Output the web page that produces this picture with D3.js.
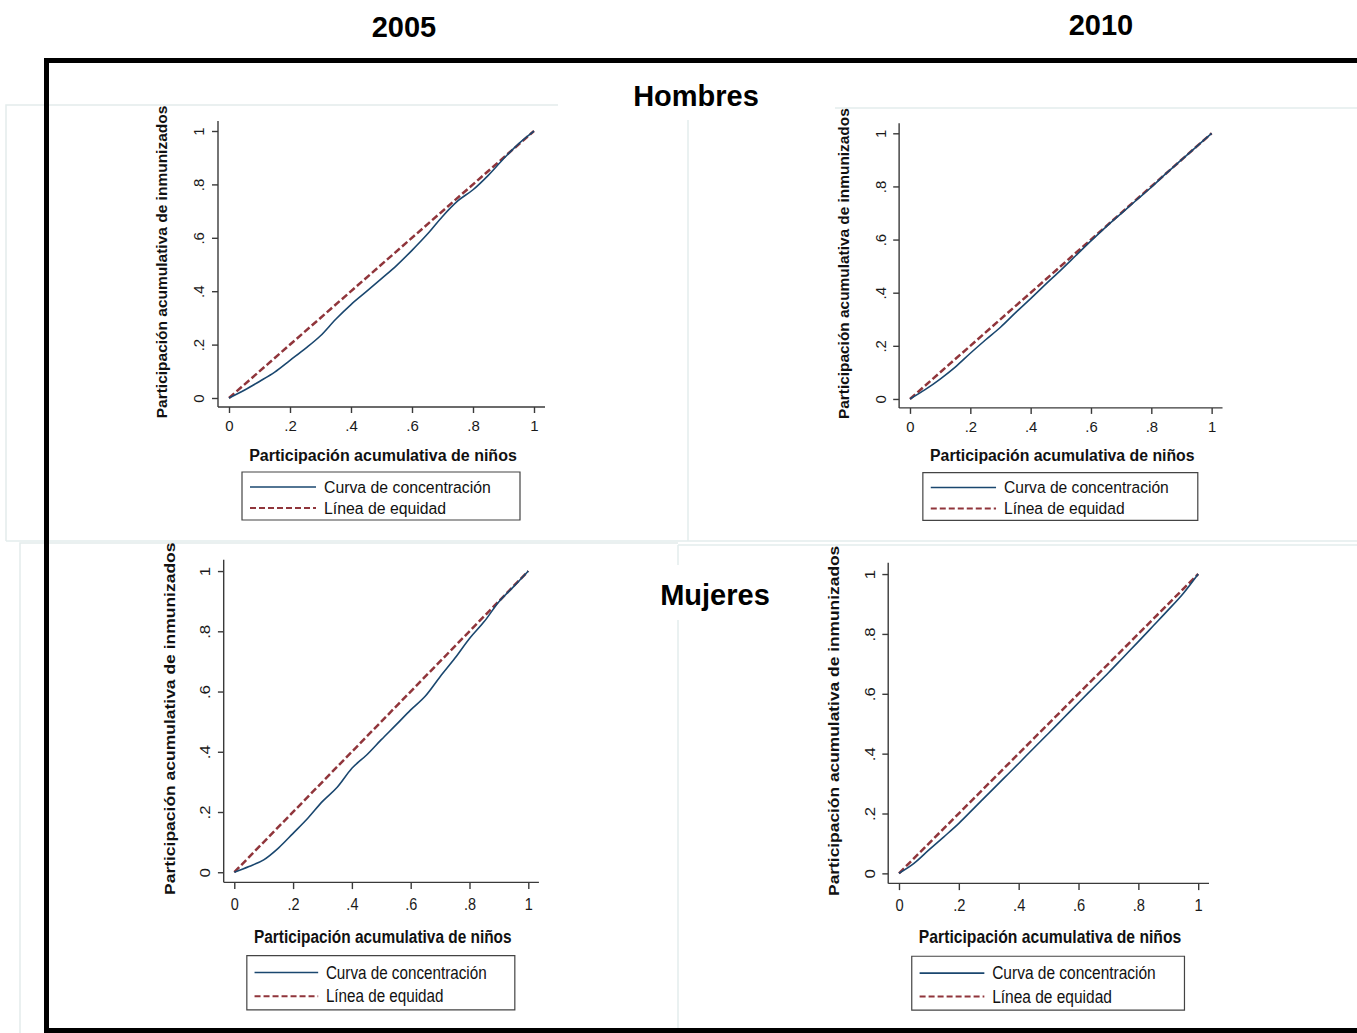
<!DOCTYPE html>
<html>
<head>
<meta charset="utf-8">
<script src="https://cdn.jsdelivr.net/npm/d3@7"></script>
<style>
  body { margin: 0; background: #fff; }
  svg { display: block; }
  text { font-family: "Liberation Sans", Arial, Helvetica, sans-serif; }
</style>
</head>
<body>
<svg id="chart" width="1357" height="1033"></svg>
<script>
// Cumulative share of children (x) and of immunized children (y) for each group
const shareX = [0, .05, .10, .15, .20, .25, .30, .35, .40, .45, .50, .55, .60, .65, .70, .75, .80, .85, .90, .95, 1];
const hombres2005 = [0, .029, .062, .097, .141, .185, .233, .295, .350, .398, .447, .497, .553, .613, .680, .738, .780, .834, .896, .953, 1];
const hombres2010 = [0, .035, .075, .120, .172, .222, .270, .325, .378, .432, .485, .540, .595, .648, .698, .748, .797, .850, .900, .950, 1];
const mujeres2005 = [0, .019, .041, .080, .129, .179, .235, .282, .345, .389, .440, .489, .539, .585, .649, .710, .776, .832, .898, .948, 1];
const mujeres2010 = [0, .033, .078, .122, .167, .217, .267, .317, .367, .418, .468, .519, .570, .620, .670, .722, .774, .827, .880, .935, 1];
const equityLine = [0, 1];

const tickValues = [0, .2, .4, .6, .8, 1];
const tickLabels = ["0", ".2", ".4", ".6", ".8", "1"];
const years = ["2005", "2010"];
const groups = ["Hombres", "Mujeres"];
const legendLabels = ["Curva de concentración", "Línea de equidad"];
const xTitle = "Participación acumulativa de niños";
const yTitle = "Participación acumulativa de inmunizados";

// Colours
const curveColor = "#1a476f";
const equityColor = "#90353b";
const axisColor = "#3a3a3a";
const faint = "#e3ecec";

// Panel placement on the page (each graph keeps its own stretch)
const panels = [
  { series: hombres2005, tx: 229,   ty: 131,   sx: 1.000, sy: 1.000 },
  { series: hombres2010, tx: 910,   ty: 133.3, sx: 0.989, sy: 0.995 },
  { series: mujeres2005, tx: 234.3, ty: 571,   sx: 0.964, sy: 1.128 },
  { series: mujeres2010, tx: 899,   ty: 574,   sx: 0.981, sy: 1.121 }
];

const W = 305, H = 267;
const svg = d3.select("#chart");

// Light borders of the individual graph regions
const bg = svg.append("g").attr("fill", "none").attr("stroke", faint).attr("stroke-width", 1.5);
bg.append("path").attr("d", "M6,541 V105 H558");
bg.append("path").attr("d", "M688,120 V541");
bg.append("path").attr("d", "M6,541 H1357");
bg.append("path").attr("d", "M835,108 H1357");
bg.append("path").attr("d", "M20,1033 V543 H678");
bg.append("path").attr("d", "M678,545 H1357");
bg.append("path").attr("d", "M678,545 V1033");

const x = d3.scaleLinear().domain([0, 1]).range([0, W]);
const y = d3.scaleLinear().domain([0, 1]).range([H, 0]);

const line = d3.line()
  .x(d => x(d[0]))
  .y(d => y(d[1]));

panels.forEach(p => {
  const g = svg.append("g")
    .attr("transform", `translate(${p.tx},${p.ty}) scale(${p.sx},${p.sy})`);

  // Y axis
  const yAx = g.append("g")
    .attr("transform", "translate(-11,0)")
    .call(d3.axisLeft(y).tickValues(tickValues)
      .tickFormat((d, i) => tickLabels[i]).tickSize(6).tickSizeOuter(0));
  yAx.select(".domain").remove();
  yAx.append("line").attr("y1", -10).attr("y2", H + 9);
  yAx.selectAll("line").attr("stroke", axisColor).attr("stroke-width", 1.4)
    .attr("vector-effect", "non-scaling-stroke");
  yAx.selectAll("text")
    .attr("x", null).attr("dy", "0.35em")
    .attr("transform", "translate(-19,0) rotate(-90)")
    .attr("text-anchor", "middle")
    .attr("fill", "#1a1a1a")
    .attr("font-size", 15);

  // X axis
  const xAx = g.append("g")
    .attr("transform", `translate(0,${H + 9})`)
    .call(d3.axisBottom(x).tickValues(tickValues)
      .tickFormat((d, i) => tickLabels[i]).tickSize(6).tickSizeOuter(0));
  xAx.select(".domain").remove();
  xAx.append("line").attr("x1", -11).attr("x2", 316);
  xAx.selectAll("line").attr("stroke", axisColor).attr("stroke-width", 1.4)
    .attr("vector-effect", "non-scaling-stroke");
  xAx.selectAll("text")
    .attr("y", 19).attr("dy", "0.35em")
    .attr("fill", "#1a1a1a")
    .attr("font-size", 15);

  // Axis titles
  g.append("text")
    .attr("x", 154).attr("y", 324).attr("dy", "0.35em")
    .attr("text-anchor", "middle")
    .attr("font-size", 16).attr("font-weight", "bold").attr("fill", "#111")
    .text(xTitle);
  g.append("text")
    .attr("transform", "translate(-67,131) rotate(-90)")
    .attr("dy", "0.35em")
    .attr("text-anchor", "middle")
    .attr("font-size", 15.5).attr("font-weight", "bold").attr("fill", "#111")
    .text(yTitle);

  // Equity line and concentration curve
  g.append("path")
    .datum(equityLine.map(v => [v, v]))
    .attr("d", line)
    .attr("fill", "none")
    .attr("stroke", equityColor)
    .attr("stroke-width", 2.5)
    .attr("stroke-dasharray", "7,3")
    .attr("vector-effect", "non-scaling-stroke");
  g.append("path")
    .datum(shareX.map((v, i) => [v, p.series[i]]))
    .attr("d", line.curve(d3.curveMonotoneX))
    .attr("fill", "none")
    .attr("stroke", curveColor)
    .attr("stroke-width", 1.6)
    .attr("stroke-linejoin", "round")
    .attr("vector-effect", "non-scaling-stroke");
  line.curve(d3.curveLinear);

  // Legend
  const lg = g.append("g");
  lg.append("rect")
    .attr("x", 13).attr("y", 341).attr("width", 278).attr("height", 48)
    .attr("fill", "#fff").attr("stroke", "#444").attr("stroke-width", 1.2)
    .attr("vector-effect", "non-scaling-stroke");
  const rows = [356, 377];
  lg.append("line")
    .attr("x1", 21).attr("x2", 87).attr("y1", rows[0]).attr("y2", rows[0])
    .attr("stroke", curveColor).attr("stroke-width", 1.6)
    .attr("vector-effect", "non-scaling-stroke");
  lg.append("line")
    .attr("x1", 21).attr("x2", 87).attr("y1", rows[1]).attr("y2", rows[1])
    .attr("stroke", equityColor).attr("stroke-width", 2)
    .attr("stroke-dasharray", "6,3")
    .attr("vector-effect", "non-scaling-stroke");
  legendLabels.forEach((t, i) => {
    lg.append("text")
      .attr("x", 95).attr("y", rows[i]).attr("dy", "0.35em")
      .attr("font-size", 15.8).attr("fill", "#111")
      .text(t);
  });
});

// Group labels sit on white boxes
svg.append("rect").attr("x", 559).attr("y", 72).attr("width", 276).attr("height", 47).attr("fill", "#fff");
svg.append("rect").attr("x", 640).attr("y", 565).attr("width", 150).attr("height", 55).attr("fill", "#fff");

// Outer frame
svg.append("rect")
  .attr("x", 46.5).attr("y", 60.5).attr("width", 1400).attr("height", 970)
  .attr("fill", "none").attr("stroke", "#000").attr("stroke-width", 5);

// Column and row headings
const heading = (txt, cx, base) => svg.append("text")
  .attr("x", cx).attr("y", base).attr("text-anchor", "middle")
  .attr("font-size", 29).attr("font-weight", "bold").attr("fill", "#000")
  .text(txt);
heading(years[0], 404, 37);
heading(years[1], 1101, 35);
heading(groups[0], 696, 106);
heading(groups[1], 715, 605);
</script>
</body>
</html>
